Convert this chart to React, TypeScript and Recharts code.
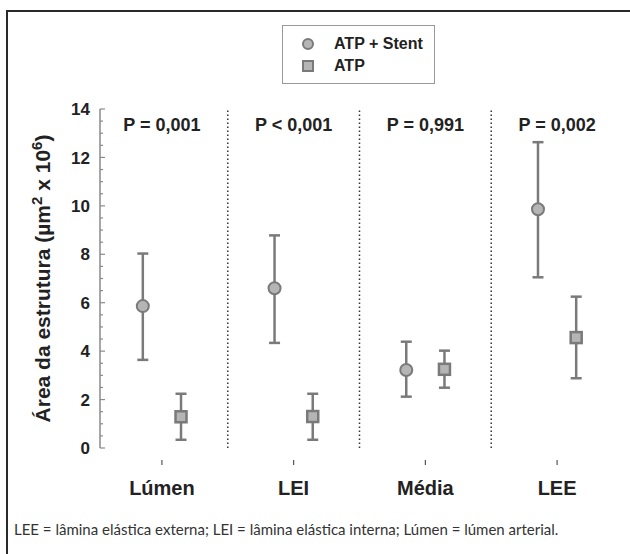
import React from 'react';
import {
  ComposedChart, Scatter, ErrorBar, XAxis, YAxis, ReferenceLine, ReferenceDot, Legend,
} from 'recharts';

const categories = ['Lúmen', 'LEI', 'Média', 'LEE'];
const pLabels = ['P = 0,001', 'P < 0,001', 'P = 0,991', 'P = 0,002'];

// ATP + Stent
const stentMean = [5.86, 6.6, 3.22, 9.86];
const stentLow = [3.64, 4.34, 2.12, 7.05];
const stentHigh = [8.03, 8.78, 4.39, 12.63];

// ATP
const atpMean = [1.29, 1.3, 3.25, 4.56];
const atpLow = [0.34, 0.34, 2.49, 2.88];
const atpHigh = [2.24, 2.24, 4.02, 6.25];

const yTicks = [0, 0.5, 1, 1.5, 2, 2.5, 3, 3.5, 4, 4.5, 5, 5.5, 6, 6.5, 7, 7.5, 8, 8.5, 9, 9.5, 10, 10.5, 11, 11.5, 12, 12.5, 13, 13.5, 14];
const xTicks = [1, 2, 3, 4];
const separators = [1.5, 2.5, 3.5];

const FONT = "'Liberation Sans', Arial, sans-serif";
const GREY = '#7a7a7a';
const FILL = '#b5b5b5';
const SHIFT = 0.145;

const build = (mean: number[], low: number[], high: number[], dx: number) =>
  mean.map((m, i) => ({ x: i + 1 + dx, y: m, err: [m - low[i], high[i] - m] }));

const stentData = build(stentMean, stentLow, stentHigh, -SHIFT);
const atpData = build(atpMean, atpLow, atpHigh, SHIFT);

const CircleShape = (props: any) => (
  <circle cx={props.cx} cy={props.cy} r={6} fill={FILL} stroke={GREY} strokeWidth={2} />
);
const SquareShape = (props: any) => (
  <rect x={props.cx - 5.5} y={props.cy - 5.5} width={11} height={11} fill={FILL} stroke={GREY} strokeWidth={2.5} />
);

const YTick = ({ x, y, payload }: any) => {
  const v = payload.value;
  const major = v % 2 === 0;
  return (
    <g>
      <line x1={x} x2={x + (major ? 5 : 3)} y1={y} y2={y} stroke="#8a8a8a" strokeWidth={1.2} />
      {major && (
        <text x={x - 10} y={y} dy="0.36em" textAnchor="end" fontFamily={FONT} fontWeight="bold" fontSize={17} fill="#222">
          {v}
        </text>
      )}
    </g>
  );
};

const XTick = ({ x, y, payload }: any) => (
  <g>
    <line x1={x} x2={x} y1={y + 12} y2={y + 17} stroke="#555" strokeWidth={1.2} />
    <text x={x} y={y + 47} textAnchor="middle" fontFamily={FONT} fontWeight="bold" fontSize={20} fill="#222">
      {categories[payload.value - 1]}
    </text>
  </g>
);

const AxisTitle = ({ viewBox }: any) => {
  const cx = viewBox.x + 43;
  const cy = viewBox.y + viewBox.height / 2;
  return (
    <text x={cx} y={cy} transform={`rotate(-90 ${cx} ${cy})`} textAnchor="middle" dy="0.35em"
      fontFamily={FONT} fontWeight="bold" fontSize={21} fill="#222">
      Área da estrutura (µm<tspan dy={-8} fontSize={15}>2</tspan>
      <tspan dy={8}> x 10</tspan>
      <tspan dy={-8} fontSize={15}>6</tspan>
      <tspan dy={8}>)</tspan>
    </text>
  );
};

const LegendBox = () => (
  <div style={{ border: '1px solid #999', background: '#fff', padding: '7px 0 6px 18px', fontFamily: FONT, fontWeight: 'bold', fontSize: 16, color: '#222' }}>
    <div style={{ display: 'flex', alignItems: 'center', height: 22 }}>
      <svg width={14} height={14} style={{ marginRight: 19 }}>
        <circle cx={7} cy={7} r={5} fill={FILL} stroke={GREY} strokeWidth={2} />
      </svg>
      ATP + Stent
    </div>
    <div style={{ display: 'flex', alignItems: 'center', height: 22 }}>
      <svg width={14} height={14} style={{ marginRight: 19 }}>
        <rect x={2} y={2} width={10} height={10} fill={FILL} stroke={GREY} strokeWidth={2} />
      </svg>
      ATP
    </div>
  </div>
);

export default function App() {
  return (
    <div style={{ position: 'absolute', left: 0, top: 0, width: 630, height: 554, background: '#fff', overflow: 'hidden' }}>
      <div style={{ position: 'absolute', left: 7, top: 10, width: 640, height: 2, background: '#2a2a2a' }} />
      <div style={{ position: 'absolute', left: 6, top: 10, width: 2, height: 560, background: '#2a2a2a' }} />
      <div style={{ position: 'absolute', left: 0, top: 0 }}>
        <ComposedChart width={630} height={554} margin={{ top: 109, right: 11, bottom: 46, left: 0 }}>
          <XAxis type="number" dataKey="x" domain={[0.53, 4.47]} ticks={xTicks} allowDataOverflow
            axisLine={false} tickLine={false} tickSize={0} tickMargin={0} height={60} tick={<XTick />} interval={0} />
          <YAxis type="number" dataKey="y" domain={[0, 14]} ticks={yTicks} interval={0} width={100}
            axisLine={{ stroke: '#8a8a8a', strokeWidth: 1.5 }} tickLine={false} tickSize={0} tickMargin={0}
            tick={<YTick />} label={<AxisTitle />} />
          {separators.map((s) => (
            <ReferenceLine key={s} x={s} stroke="#333" strokeWidth={1.5} strokeDasharray="1.5 2.5" />
          ))}
          {pLabels.map((p, i) => (
            <ReferenceDot key={p} x={i + 1} y={13.35} r={0} fill="none" stroke="none"
              label={{ value: p, position: 'center', fontFamily: FONT, fontWeight: 'bold', fontSize: 18, fill: '#222' }} />
          ))}
          <Scatter name="ATP + Stent" data={stentData} shape={<CircleShape />} isAnimationActive={false}>
            <ErrorBar dataKey="err" direction="y" width={5.5} stroke={GREY} strokeWidth={2.5} />
          </Scatter>
          <Scatter name="ATP" data={atpData} shape={<SquareShape />} isAnimationActive={false}>
            <ErrorBar dataKey="err" direction="y" width={5.5} stroke={GREY} strokeWidth={2.5} />
          </Scatter>
          <Legend layout="vertical" align="center" verticalAlign="middle" content={<LegendBox />}
            wrapperStyle={{ top: 25, left: 282, width: 153 }} />
        </ComposedChart>
      </div>
      <div style={{ position: 'absolute', left: 14, top: 520, fontFamily: 'Lato, sans-serif', fontSize: 15, color: '#333', whiteSpace: 'nowrap' }}>
        LEE = lâmina elástica externa; LEI = lâmina elástica interna; Lúmen = lúmen arterial.
      </div>
    </div>
  );
}
